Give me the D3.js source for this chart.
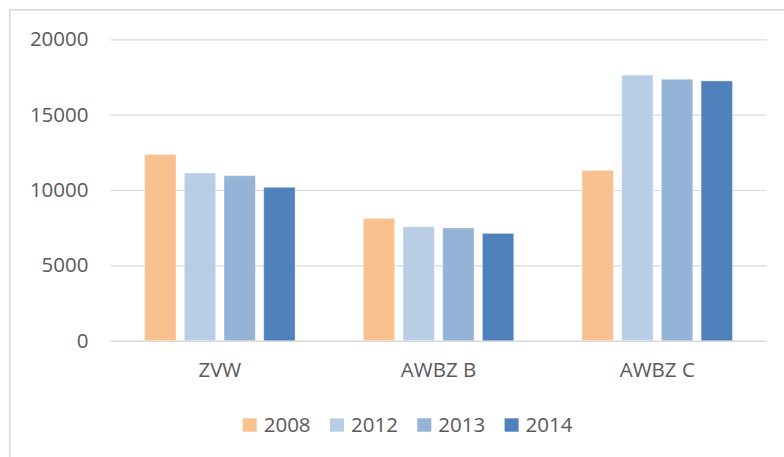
<!DOCTYPE html>
<html>
<head>
<meta charset="utf-8">
<script src="https://cdn.jsdelivr.net/npm/d3@7/dist/d3.min.js"></script>
<style>
  html, body { margin: 0; padding: 0; background: #fff; }
  svg { display: block; }
  text { font-family: "Open Sans", sans-serif; fill: #595959; }
</style>
</head>
<body>
<div id="plot"></div>
<script>
// chart data
var categories = ["ZVW", "AWBZ B", "AWBZ C"];
var years = ["2008", "2012", "2013", "2014"];
var values_2008 = [12350, 8120, 11300];
var values_2012 = [11130, 7560, 17620];
var values_2013 = [10950, 7480, 17350];
var values_2014 = [10180, 7120, 17240];
var y_ticks = [0, 5000, 10000, 15000, 20000];

var series = [values_2008, values_2012, values_2013, values_2014];
var colors = ["#F9C090", "#B9CDE5", "#95B3D7", "#4F81BD"];

var W = 784, H = 457;
// plot box (note: "top" is reserved on window, so use p_* names)
var p_left = 110.5, p_right = 766.6, p_top = 39.3, p_bottom = 340.7;

var svg = d3.select("div#plot")
    .append("svg")
        .attr("width", W)
        .attr("height", H)
        .attr("viewBox", "0 0 " + W + " " + H);

// chart area border (runs past the right and bottom edge)
svg.append("rect")
    .attr("x", 9.75)
    .attr("y", 9.75)
    .attr("width", W + 20)
    .attr("height", H + 20)
    .attr("fill", "none")
    .attr("stroke", "#d9d9d9")
    .attr("stroke-width", 1.5);

var x0 = d3.scaleBand()
    .domain(categories)
    .range([p_left, p_right]);

var x1 = d3.scaleBand()
    .domain(years)
    .range([0, x0.bandwidth()])
    .paddingInner(0.21)
    .paddingOuter(0.86);

var y = d3.scaleLinear()
    .domain([0, 20000])
    .range([p_bottom, p_top]);

// gridlines + y labels
var y_axis = d3.axisLeft(y)
    .tickValues(y_ticks)
    .tickSize(-(p_right - p_left))
    .tickPadding(22)
    .tickFormat(d3.format("d"));

var g_y = svg.append("g")
    .attr("transform", "translate(" + p_left + ",0)")
    .call(y_axis);
g_y.select(".domain").remove();
g_y.selectAll(".tick line")
    .attr("stroke", "#d9d9d9")
    .attr("stroke-width", function(d) { return d === 0 ? 1.5 : 1.2; });
g_y.selectAll(".tick text")
    .attr("fill", "#595959")
    .style("font-size", "20.5px")
    .style("font-family", "'Open Sans', sans-serif");

// bars
var groups = svg.append("g")
    .selectAll("g")
    .data(categories)
    .join("g")
        .attr("transform", function(d) { return "translate(" + x0(d) + ",0)"; });

groups.selectAll("rect")
    .data(function(c, i) {
        return years.map(function(yr, j) { return { year: yr, value: series[j][i], color: colors[j] }; });
    })
    .join("rect")
        .attr("x", function(d) { return x1(d.year); })
        .attr("y", function(d) { return y(d.value); })
        .attr("width", x1.bandwidth())
        .attr("height", function(d) { return y(0) - y(d.value); })
        .attr("fill", function(d) { return d.color; })
        .attr("stroke", "#ffffff")
        .attr("stroke-opacity", 0.35)
        .attr("stroke-width", 1);

// category labels
var x_axis = d3.axisBottom(x0).tickSize(0).tickPadding(22);
var g_x = svg.append("g")
    .attr("transform", "translate(0," + p_bottom + ")")
    .call(x_axis);
g_x.select(".domain").remove();
g_x.selectAll(".tick text")
    .attr("fill", "#595959")
    .style("font-size", "20.5px")
    .style("font-family", "'Open Sans', sans-serif");

// legend
var legend_x0 = 242.7, legend_step = 87.3, legend_y = 425;
var legend = svg.append("g")
    .selectAll("g")
    .data(years)
    .join("g")
        .attr("transform", function(d, i) { return "translate(" + (legend_x0 + i * legend_step) + "," + legend_y + ")"; });

legend.append("rect")
    .attr("x", 0)
    .attr("y", -6.7)
    .attr("width", 14)
    .attr("height", 13.4)
    .attr("fill", function(d, i) { return colors[i]; });

legend.append("text")
    .attr("x", 21)
    .attr("dy", "0.35em")
    .style("font-size", "20.5px")
    .text(function(d) { return d; });
</script>
</body>
</html>
